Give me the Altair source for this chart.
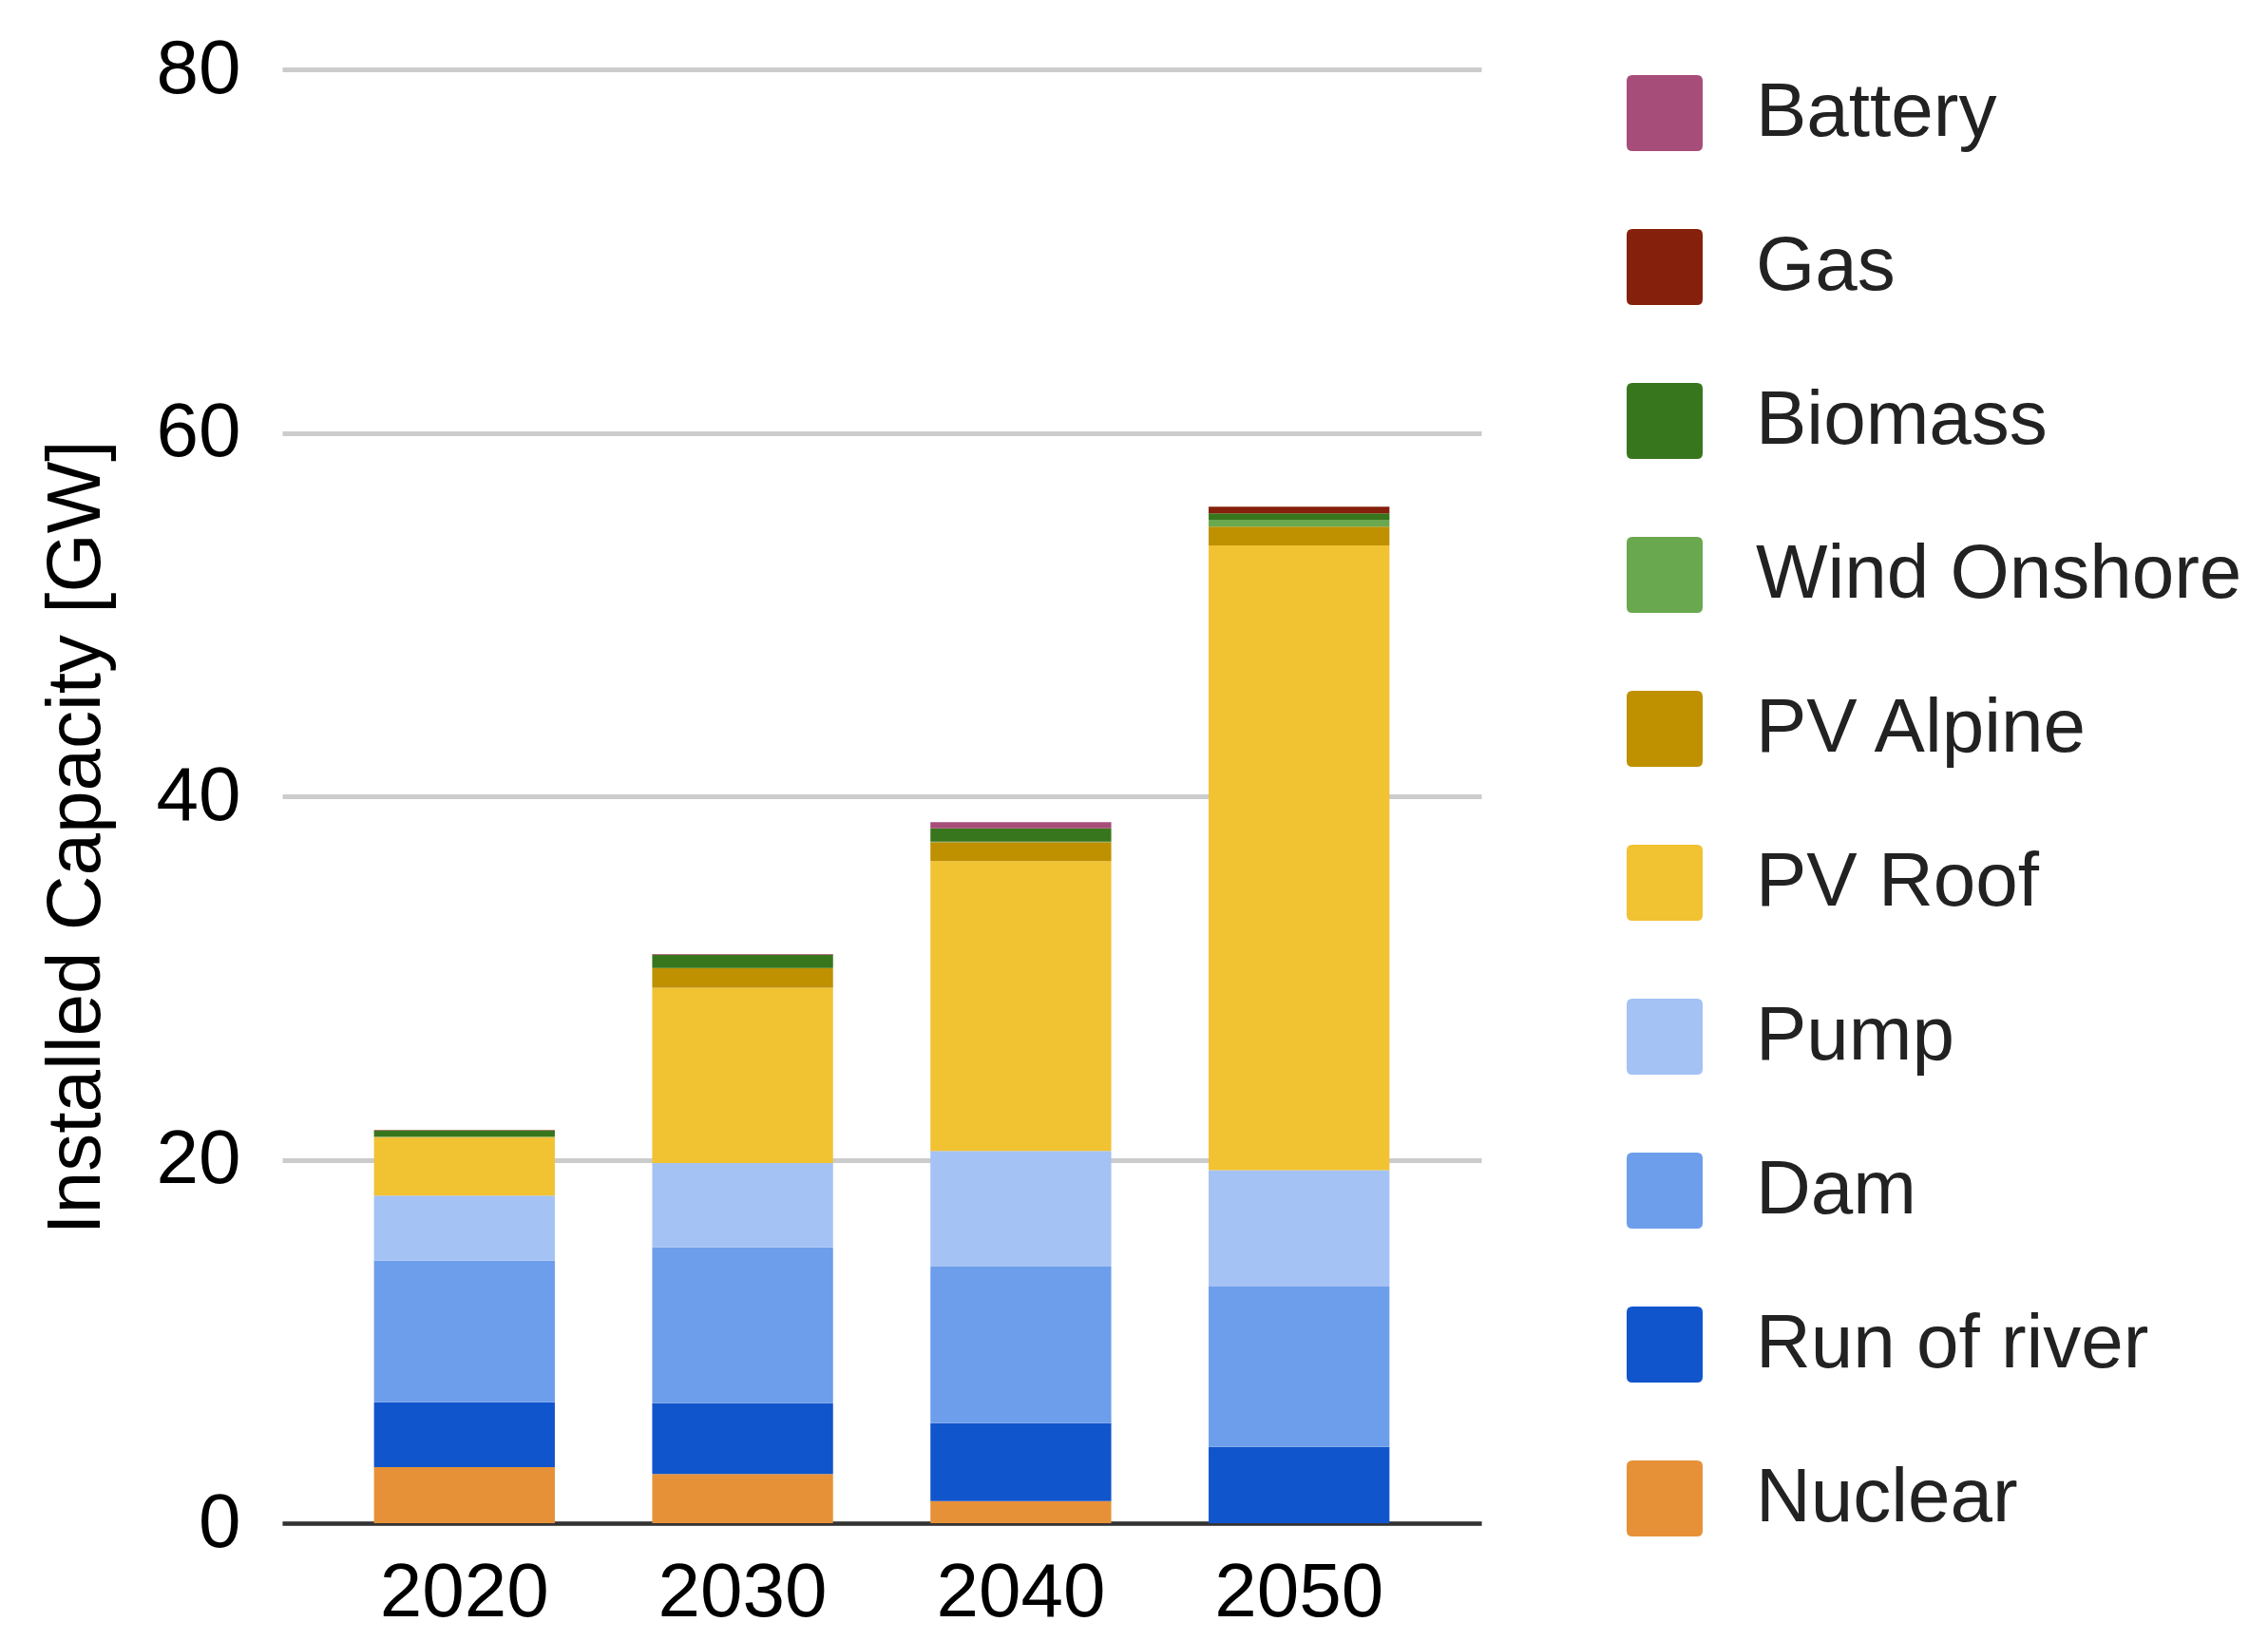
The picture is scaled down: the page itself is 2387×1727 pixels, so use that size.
import altair as alt
import pandas as pd

years = ["2020", "2030", "2040", "2050"]
techs = ["Battery", "Gas", "Biomass", "Wind Onshore", "PV Alpine",
         "PV Roof", "Pump", "Dam", "Run of river", "Nuclear"]
colors = ["#a64d79", "#85200c", "#38761d", "#6aa84f", "#bf9000",
          "#f1c232", "#a4c2f4", "#6d9eeb", "#1155cc", "#e69138"]

nuclear = [3.08, 2.70, 1.21, 0.0]
run_of_river = [3.58, 3.90, 4.29, 4.19]
dam = [7.78, 8.58, 8.62, 8.83]
pump = [3.58, 4.64, 6.36, 6.40]
pv_roof = [3.19, 9.65, 15.95, 34.39]
pv_alpine = [0.05, 1.06, 1.05, 1.03]
wind_onshore = [0.02, 0.02, 0.02, 0.37]
biomass = [0.33, 0.72, 0.73, 0.36]
gas = [0.03, 0.02, 0.0, 0.37]
battery = [0.0, 0.03, 0.35, 0.0]

series = {
    "Nuclear": nuclear, "Run of river": run_of_river, "Dam": dam,
    "Pump": pump, "PV Roof": pv_roof, "PV Alpine": pv_alpine,
    "Wind Onshore": wind_onshore, "Biomass": biomass, "Gas": gas,
    "Battery": battery,
}
stack_order = ["Nuclear", "Run of river", "Dam", "Pump", "PV Roof",
               "PV Alpine", "Wind Onshore", "Biomass", "Gas", "Battery"]

rows = []
for t in stack_order:
    for i, y in enumerate(years):
        rows.append({"year": y, "tech": t, "value": series[t][i],
                     "order": stack_order.index(t)})
df = pd.DataFrame(rows)

rounded_square = ("M-1,-0.85 Q-1,-1 -0.85,-1 L0.85,-1 Q1,-1 1,-0.85 "
                  "L1,0.85 Q1,1 0.85,1 L-0.85,1 Q-1,1 -1,0.85 Z")

FONT = "Liberation Sans"

chart = alt.Chart(df).mark_bar(strokeWidth=0).encode(
    x=alt.X("year:N", sort=years,
            scale=alt.Scale(paddingInner=0.35, paddingOuter=0.33),
            axis=alt.Axis(title=None, labelAngle=0, labelFontSize=80,
                          labelFont=FONT, labelColor="#000000",
                          ticks=False, labelPadding=34,
                          domainColor="#333333", domainWidth=4.5,
                          grid=False)),
    y=alt.Y("value:Q", stack="zero",
            scale=alt.Scale(domain=[0, 80], nice=False),
            axis=alt.Axis(title="Installed Capacity [GW]", values=[0, 20, 40, 60, 80],
                          titleFontSize=80, titleFont=FONT, titleFontWeight="normal",
                          titleColor="#000000", titleAngle=270,
                          titleX=-217, titleY=808, titleAlign="center",
                          titleBaseline="middle",
                          labelFontSize=80, labelFont=FONT, labelColor="#000000",
                          labelPadding=44, ticks=False, domain=False,
                          gridColor="#cccccc", gridWidth=5)),
    color=alt.Color("tech:N",
                    scale=alt.Scale(domain=techs, range=colors),
                    legend=alt.Legend(title=None, orient="none",
                                      legendX=1415, legendY=6,
                                      symbolType=rounded_square,
                                      symbolSize=6400, symbolStrokeWidth=0,
                                      labelFontSize=80, labelFont=FONT,
                                      labelColor="#222222", labelOffset=56,
                                      rowPadding=82, labelLimit=0)),
    order=alt.Order("order:Q", sort="ascending"),
).properties(
    width=1262, height=1530,
    background="white",
    autosize=alt.AutoSizeParams(type="none"),
    padding={"left": 289, "top": 65, "right": 800, "bottom": 116},
).configure_view(stroke="transparent", strokeWidth=0)

chart.save("out.html", embed_options={"renderer": "svg", "actions": False})
